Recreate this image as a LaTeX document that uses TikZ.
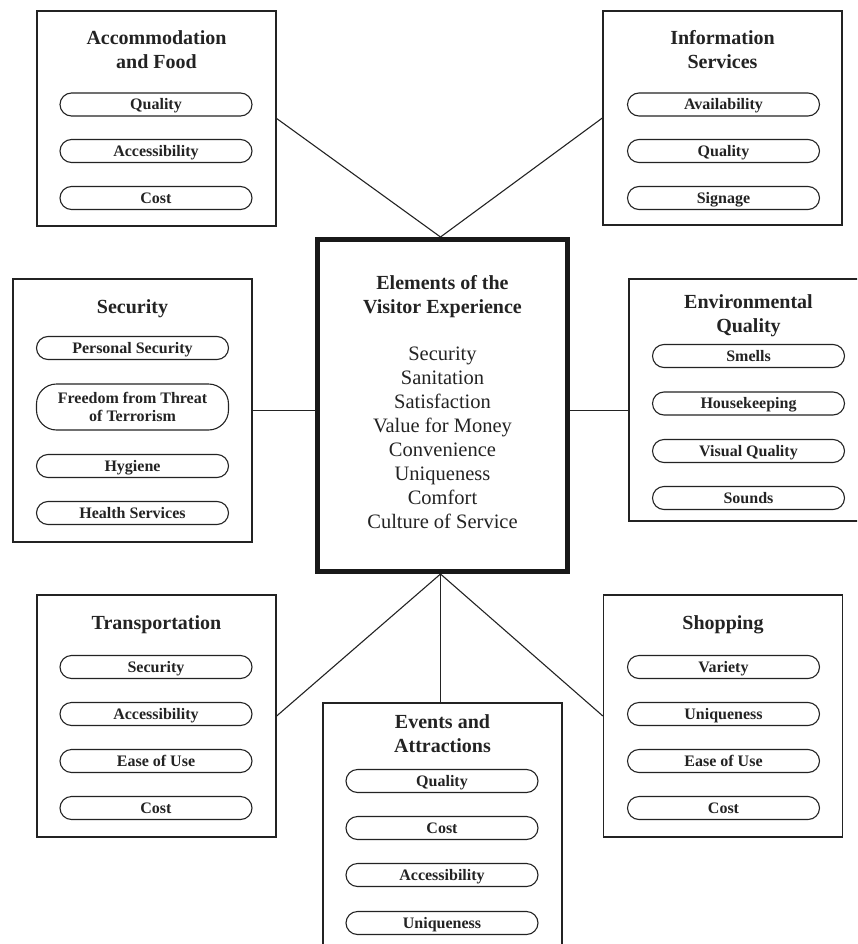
\documentclass[tikz,border=0pt]{standalone}
\usepackage{fontspec}
\setmainfont{Liberation Serif}
\definecolor{ink}{HTML}{232323}
\begin{document}
\begin{tikzpicture}[x=1pt,y=-1pt,
  box/.style={draw=ink, line width=1.3pt, minimum width=239pt, inner sep=0pt},
  pill/.style={draw=ink, line width=1.1pt, rounded corners=11.5pt, minimum width=192pt, minimum height=23pt, inner sep=0pt, font=\fontsize{16}{18}\selectfont\bfseries, text=ink, text height=10.6pt, text depth=0pt},
  pilltwo/.style={draw=ink, line width=1.1pt, rounded corners=20pt, minimum width=192pt, minimum height=46pt, inner sep=0pt, align=center, font=\fontsize{16}{18.5}\selectfont\bfseries, text=ink},
  ttl/.style={align=center, font=\fontsize{20}{24}\selectfont\bfseries, text=ink, inner sep=0pt},
  ttlone/.style={font=\fontsize{20}{24}\selectfont\bfseries, text=ink, inner sep=0pt, text height=13.3pt, text depth=0pt},
  lst/.style={align=center, font=\fontsize{20.5}{24}\selectfont, text=ink, inner sep=0pt},
  conn/.style={draw=ink, line width=1.1pt}]
\useasboundingbox (0,0) rectangle (857,944);
\clip (0,0) rectangle (857,944);

% central box
\node[draw=black!90, line width=5pt, minimum width=250pt, minimum height=332pt, inner sep=0pt] (cen) at (442.5,405.5) {};
\node[ttl] (centitle) at (442.5,296.6) {Elements of the\\Visitor Experience};
\node[lst] (cenlist) at (442.5,437.7) {Security\\Sanitation\\Satisfaction\\Value for Money\\Convenience\\Uniqueness\\Comfort\\Culture of Service};

% Accommodation and Food
\node[box, minimum height=215pt] (acc) at (156.5,118.5) {};
\node[ttl] (acct) at (156.5,49.4) {Accommodation\\and Food};
\node[pill] (acc1) at (156,104.5) {Quality};
\node[pill] (acc2) at (156,151) {Accessibility};
\node[pill] (acc3) at (156,198) {Cost};

% Information Services
\node[box, minimum height=214pt] (inf) at (722.5,118) {};
\node[ttl] (inft) at (722.5,49.4) {Information\\Services};
\node[pill] (inf1) at (723.5,104.5) {Availability};
\node[pill] (inf2) at (723.5,151) {Quality};
\node[pill] (inf3) at (723.5,198) {Signage};

% Security
\node[box, minimum height=263pt] (sec) at (132.5,410.5) {};
\node[ttlone] (sect) at (132.5,306.4) {Security};
\node[pill] (sec1) at (132.5,348) {Personal Security};
\node[pilltwo] (sec2) at (132.5,407) {Freedom from Threat\\of Terrorism};
\node[pill] (sec3) at (132.5,466) {Hygiene};
\node[pill] (sec4) at (132.5,513) {Health Services};

% Environmental Quality
\node[box, minimum height=242pt] (env) at (748.5,400) {};
\node[ttl] (envt) at (748.5,315.3) {Environmental\\Quality};
\node[pill] (env1) at (748.5,356) {Smells};
\node[pill] (env2) at (748.5,403.5) {Housekeeping};
\node[pill] (env3) at (748.5,451) {Visual Quality};
\node[pill] (env4) at (748.5,498) {Sounds};

% Transportation
\node[box, minimum height=242pt] (tra) at (156.5,716) {};
\node[ttlone] (trat) at (156.5,622.7) {Transportation};
\node[pill] (tra1) at (156,667) {Security};
\node[pill] (tra2) at (156,714) {Accessibility};
\node[pill] (tra3) at (156,761) {Ease of Use};
\node[pill] (tra4) at (156,808) {Cost};

% Shopping
\node[box, minimum height=242pt] (sho) at (723,716) {};
\node[ttlone] (shot) at (723,622.7) {Shopping};
\node[pill] (sho1) at (723.5,667) {Variety};
\node[pill] (sho2) at (723.5,714) {Uniqueness};
\node[pill] (sho3) at (723.5,761) {Ease of Use};
\node[pill] (sho4) at (723.5,808) {Cost};

% Events and Attractions
\node[box, minimum height=257pt] (evt) at (442.5,831.5) {};
\node[ttl] (evtt) at (442.5,733.4) {Events and\\Attractions};
\node[pill] (evt1) at (442,781) {Quality};
\node[pill] (evt2) at (442,828) {Cost};
\node[pill] (evt3) at (442,875) {Accessibility};
\node[pill] (evt4) at (442,923) {Uniqueness};

% connectors
\draw[conn] (acc.east) -- ([xshift=-2pt]cen.north);
\draw[conn] (inf.west) -- ([xshift=-2pt]cen.north);
\draw[conn] (sec.east) -- (sec.east -| cen.west);
\draw[conn] (cen.east |- sec.east) -- (sec.east -| env.west);
\draw[conn] (tra.east) -- ([xshift=-2pt]cen.south);
\draw[conn] (sho.west) -- ([xshift=-2pt]cen.south);
\draw[conn] ([xshift=-2pt]cen.south) -- ([xshift=-2pt]cen.south |- evt.north);
\end{tikzpicture}
\end{document}
